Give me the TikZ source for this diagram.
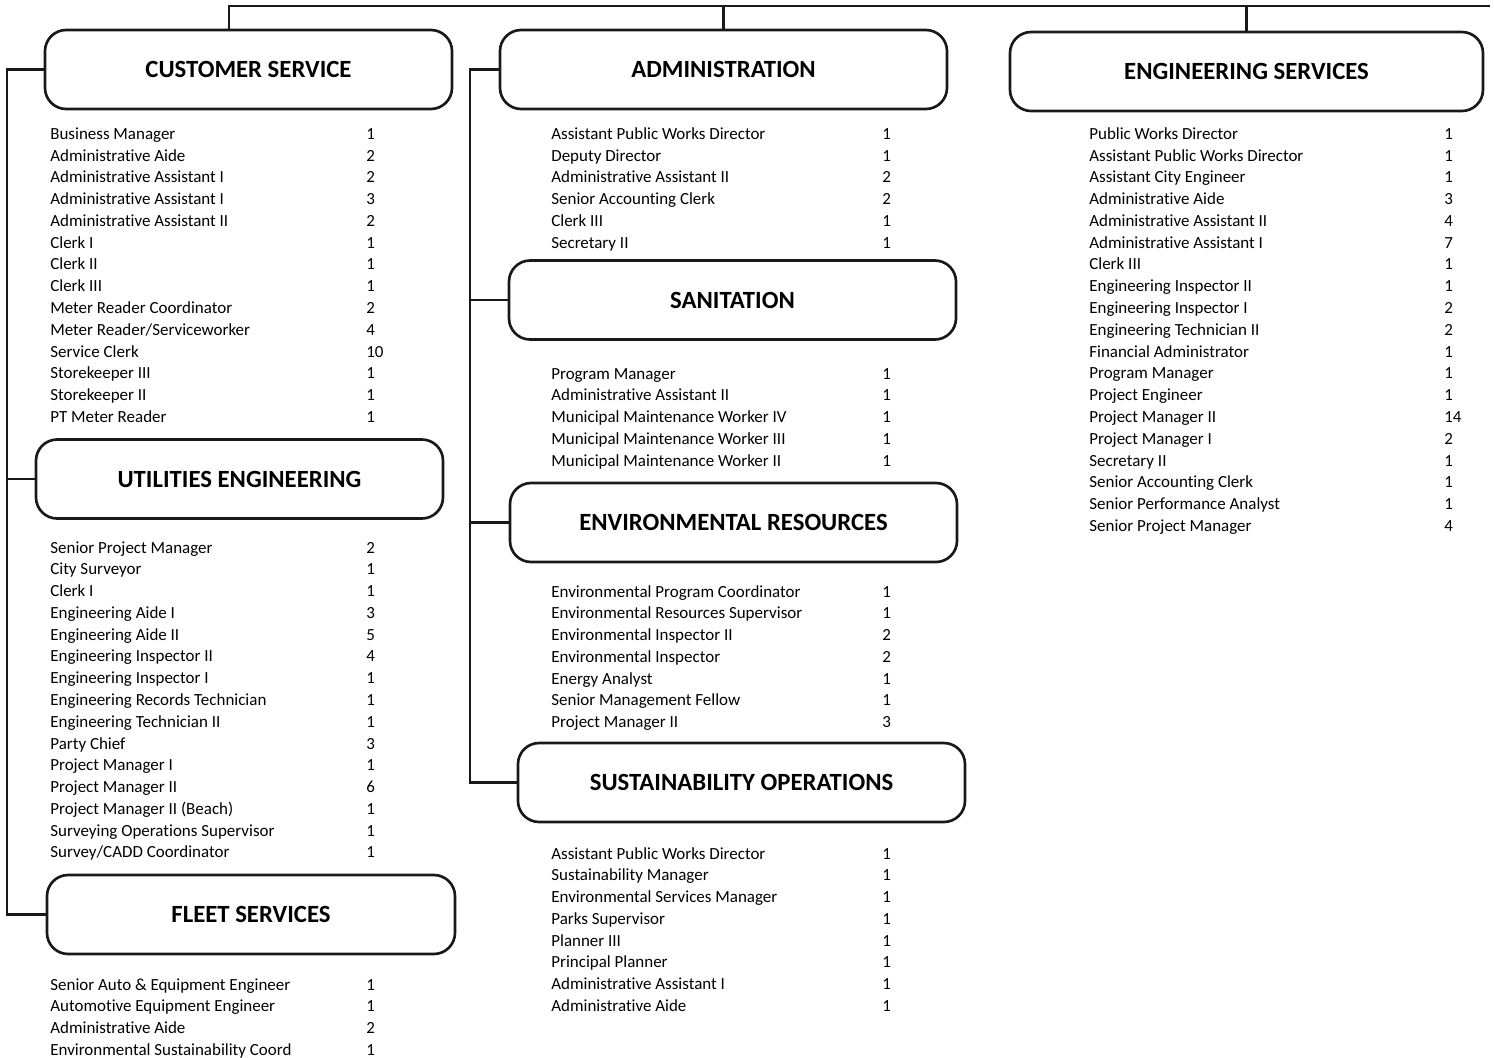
\documentclass[tikz,border=0pt]{standalone}
\usepackage{fontspec}
\setmainfont{Carlito}[Ligatures={NoCommon}]
\begin{document}
% one unit = 0.1988mm, y grows downwards
\begin{tikzpicture}[x=0.1988mm, y=-0.1988mm,
  link/.style={line width=1.5pt, draw=black!90},
  unitbox/.style={draw=black!90, line width=1.5pt, rounded corners=4.2mm,
    font=\fontsize{14}{16}\selectfont\bfseries, align=center, inner sep=0pt},
  item/.style={anchor=base west, inner sep=0pt, font=\fontsize{9.6}{12}\selectfont}]
\useasboundingbox (0,0) rectangle (1494,1057);

\newcommand\ubox[5]{% name, centre x, centre y, width, text
  \node[unitbox, minimum width=#4*0.1988mm, minimum height=79*0.1988mm] (#1) at (#2,#3) {#5};}

\ubox{cs}{248.5}{69.5}{407}{CUSTOMER SERVICE}
\ubox{adm}{723.5}{69.5}{447}{ADMINISTRATION}
\ubox{eng}{1246.5}{71.5}{473}{ENGINEERING SERVICES}
\ubox{ue}{239.5}{479}{407}{UTILITIES ENGINEERING}
\ubox{san}{732.5}{300}{447}{SANITATION}
\ubox{env}{733.5}{522.5}{447}{ENVIRONMENTAL RESOURCES}
\ubox{sust}{741.5}{782.5}{447}{SUSTAINABILITY OPERATIONS}
\ubox{fs}{251}{914.5}{408}{FLEET SERVICES}

% bus coordinates
\coordinate (topL) at (229,6);
\coordinate (topR) at (1490,6);
\coordinate (lb) at (7,0);
\coordinate (mb) at (470,0);

% top bus
\draw[link] (topR) -- (topL) -- (cs.north -| topL);
\draw[link] (adm.north) -- (adm.north |- topL);
\draw[link] (eng.north) -- (eng.north |- topL);

% left bracket
\draw[link] (cs.west) -| (fs.west -| lb) -- (fs.west);
\draw[link] (ue.west) -- (ue.west -| lb);

% middle bracket
\draw[link] (adm.west) -| (sust.west -| mb) -- (sust.west);
\draw[link] (san.west) -- (san.west -| mb);
\draw[link] (env.west) -- (env.west -| mb);

% staffing lists: prefix, name x, count x, first baseline, rows
\newcommand\roster[5]{%
  \foreach [count=\i] \t/\n in {#5} {
    \node[item] (#1n\i) at (#2, {#4+(\i-1)*21.78}) {\t};
    \node[item] (#1c\i) at (#3, {#4+(\i-1)*21.78}) {\n};
  }}

\roster{cs}{50}{366}{139.3}{Business Manager/1, Administrative Aide/2,
  Administrative Assistant I/2, Administrative Assistant I/3,
  Administrative Assistant II/2, Clerk I/1, Clerk II/1, Clerk III/1,
  Meter Reader Coordinator/2, {Meter Reader/Serviceworker}/4,
  Service Clerk/10, Storekeeper III/1, Storekeeper II/1, PT Meter Reader/1}

\roster{ue}{50}{366}{553}{Senior Project Manager/2, City Surveyor/1, Clerk I/1,
  Engineering Aide I/3, Engineering Aide II/5, Engineering Inspector II/4,
  Engineering Inspector I/1, Engineering Records Technician/1,
  Engineering Technician II/1, Party Chief/3, Project Manager I/1,
  Project Manager II/6, Project Manager II (Beach)/1,
  Surveying Operations Supervisor/1, {Survey/CADD Coordinator}/1}

\roster{fs}{50}{366}{990}{Senior Auto \& Equipment Engineer/1,
  Automotive Equipment Engineer/1, Administrative Aide/2,
  Environmental Sustainability Coord/1}

\roster{adm}{551}{882}{139.3}{Assistant Public Works Director/1,
  Deputy Director/1, Administrative Assistant II/2,
  Senior Accounting Clerk/2, Clerk III/1, Secretary II/1}

\roster{san}{551}{882}{379}{Program Manager/1, Administrative Assistant II/1,
  Municipal Maintenance Worker IV/1, Municipal Maintenance Worker III/1,
  Municipal Maintenance Worker II/1}

\roster{env}{551}{882}{597}{Environmental Program Coordinator/1,
  Environmental Resources Supervisor/1, Environmental Inspector II/2,
  Environmental Inspector/2, Energy Analyst/1, Senior Management Fellow/1,
  Project Manager II/3}

\roster{sust}{551}{882}{859}{Assistant Public Works Director/1,
  Sustainability Manager/1, Environmental Services Manager/1,
  Parks Supervisor/1, Planner III/1, Principal Planner/1,
  Administrative Assistant I/1, Administrative Aide/1}

\roster{eng}{1089}{1444}{139.3}{Public Works Director/1,
  Assistant Public Works Director/1, Assistant City Engineer/1,
  Administrative Aide/3, Administrative Assistant II/4,
  Administrative Assistant I/7, Clerk III/1, Engineering Inspector II/1,
  Engineering Inspector I/2, Engineering Technician II/2,
  Financial Administrator/1, Program Manager/1, Project Engineer/1,
  Project Manager II/14, Project Manager I/2, Secretary II/1,
  Senior Accounting Clerk/1, Senior Performance Analyst/1,
  Senior Project Manager/4}
\end{tikzpicture}
\end{document}
